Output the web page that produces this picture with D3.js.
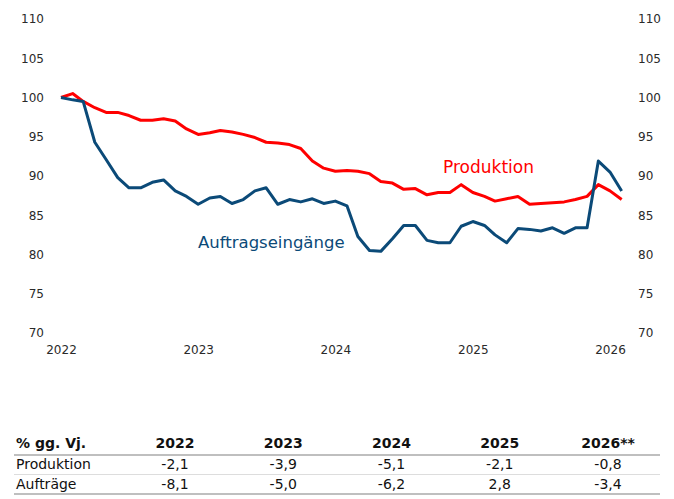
<!DOCTYPE html>
<html>
<head>
<meta charset="utf-8">
<script src="https://cdn.jsdelivr.net/npm/d3@7"></script>
<style>
  body { margin: 0; background: #fff; }
  svg { display: block; font-family: "DejaVu Sans", sans-serif; }
</style>
</head>
<body>
<svg id="chart" width="674" height="499"></svg>
<script>
// Monate Jan 2022 - Feb 2026
const months = [
  '2022-01', '2022-02', '2022-03', '2022-04', '2022-05', '2022-06', '2022-07', '2022-08', '2022-09', '2022-10', '2022-11', '2022-12',
  '2023-01', '2023-02', '2023-03', '2023-04', '2023-05', '2023-06', '2023-07', '2023-08', '2023-09', '2023-10', '2023-11', '2023-12',
  '2024-01', '2024-02', '2024-03', '2024-04', '2024-05', '2024-06', '2024-07', '2024-08', '2024-09', '2024-10', '2024-11', '2024-12',
  '2025-01', '2025-02', '2025-03', '2025-04', '2025-05', '2025-06', '2025-07', '2025-08', '2025-09', '2025-10', '2025-11', '2025-12',
  '2026-01', '2026-02'
];

const produktion = [
  100.0, 100.5, 99.5, 98.7, 98.1, 98.1, 97.7, 97.1, 97.1, 97.3, 97.0, 96.0,
  95.3, 95.5, 95.8, 95.6, 95.3, 94.9, 94.3, 94.2, 94.0, 93.5, 91.9, 91.0,
  90.6, 90.7, 90.6, 90.3, 89.3, 89.1, 88.3, 88.4, 87.6, 87.9, 87.9, 88.9,
  87.9, 87.4, 86.8, 87.1, 87.4, 86.4, 86.5, 86.6, 86.7, 87.0, 87.4, 88.9,
  88.1, 87.0
];

const auftraege = [
  100.0, 99.7, 99.5, 94.3, 92.1, 89.8, 88.5, 88.5, 89.2, 89.5, 88.1, 87.4,
  86.4, 87.2, 87.4, 86.5, 87.0, 88.1, 88.5, 86.4, 87.0, 86.7, 87.1, 86.5,
  86.8, 86.2, 82.3, 80.5, 80.4, 82.0, 83.7, 83.7, 81.8, 81.5, 81.5, 83.6,
  84.2, 83.7, 82.5, 81.5, 83.3, 83.2, 83.0, 83.4, 82.7, 83.4, 83.4, 91.9,
  90.5, 88.1
];

const yTicks = [70, 75, 80, 85, 90, 95, 100, 105, 110];
const xTicks = ['2022', '2023', '2024', '2025', '2026'];

// Tabelle
const tableHead = '% gg. Vj.';
const tableYears = ['2022', '2023', '2024', '2025', '2026**'];
const tableRows = ['Produktion', 'Aufträge'];
const prodChange = ['-2,1', '-3,9', '-5,1', '-2,1', '-0,8'];
const auftrChange = ['-8,1', '-5,0', '-6,2', '2,8', '-3,4'];

const RED = '#ff0000';
const NAVY = '#0b4a78';

const svg = d3.select('#chart');
const parse = d3.timeParse('%Y-%m');

const x = d3.scaleTime()
  .domain([parse('2022-01'), parse('2026-01')])
  .range([61, 610]);

const y = d3.scaleLinear()
  .domain([70, 110])
  .range([333, 19]);

// y-Achsen links und rechts
const yLeft = svg.append('g')
  .attr('transform', 'translate(44,0)')
  .call(d3.axisLeft(y).tickValues(yTicks).tickSize(0).tickPadding(0));
const yRight = svg.append('g')
  .attr('transform', 'translate(638,0)')
  .call(d3.axisRight(y).tickValues(yTicks).tickSize(0).tickPadding(0));

// x-Achse
const xAxis = svg.append('g')
  .attr('transform', 'translate(0,345)')
  .call(d3.axisBottom(x).tickValues(xTicks.map(d => parse(d + '-01'))).tickFormat(d3.timeFormat('%Y')).tickSize(0).tickPadding(0));

[yLeft, yRight, xAxis].forEach(a => {
  a.select('.domain').remove();
  a.selectAll('text')
    .attr('font-family', '"DejaVu Sans", sans-serif')
    .attr('font-size', 12)
    .attr('fill', '#2a2a2a');
});

// Linien
const line = d3.line()
  .x((d, i) => x(parse(months[i])))
  .y(d => y(d));

svg.append('path')
  .datum(produktion)
  .attr('fill', 'none')
  .attr('stroke', RED)
  .attr('stroke-width', 3)
  .attr('stroke-linejoin', 'round')
  .attr('d', line);

svg.append('path')
  .datum(auftraege)
  .attr('fill', 'none')
  .attr('stroke', NAVY)
  .attr('stroke-width', 3)
  .attr('stroke-linejoin', 'round')
  .attr('d', line);

// Beschriftung
svg.append('text')
  .attr('x', 443)
  .attr('y', 173)
  .attr('font-size', 17)
  .attr('fill', RED)
  .text('Produktion');

svg.append('text')
  .attr('x', 198)
  .attr('y', 248)
  .attr('font-size', 16.5)
  .attr('fill', NAVY)
  .text('Auftragseingänge');

// Tabelle
const colX = d3.scalePoint()
  .domain(tableYears)
  .range([175, 608]);

const tbl = svg.append('g').attr('font-size', 14).attr('fill', '#111');

tbl.append('text')
  .attr('x', 16)
  .attr('y', 448)
  .attr('font-weight', 'bold')
  .text(tableHead);

tbl.selectAll('.yr')
  .data(tableYears)
  .enter()
  .append('text')
  .attr('x', d => colX(d))
  .attr('y', 448)
  .attr('text-anchor', 'middle')
  .attr('font-weight', 'bold')
  .text(d => d);

[prodChange, auftrChange].forEach((vals, r) => {
  const yy = 469 + r * 20;
  tbl.append('text')
    .attr('x', 16)
    .attr('y', yy)
    .text(tableRows[r]);
  tbl.selectAll('.v' + r)
    .data(vals)
    .enter()
    .append('text')
    .attr('x', (d, i) => colX(tableYears[i]))
    .attr('y', yy)
    .attr('text-anchor', 'middle')
    .text(d => d);
});

[[455, '#aaa', 1.5], [474.5, '#ddd', 1], [494, '#aaa', 1.5]].forEach(([yy, c, w]) => {
  svg.append('line')
    .attr('x1', 14)
    .attr('x2', 660)
    .attr('y1', yy)
    .attr('y2', yy)
    .attr('stroke', c)
    .attr('stroke-width', w);
});
</script>
</body>
</html>
